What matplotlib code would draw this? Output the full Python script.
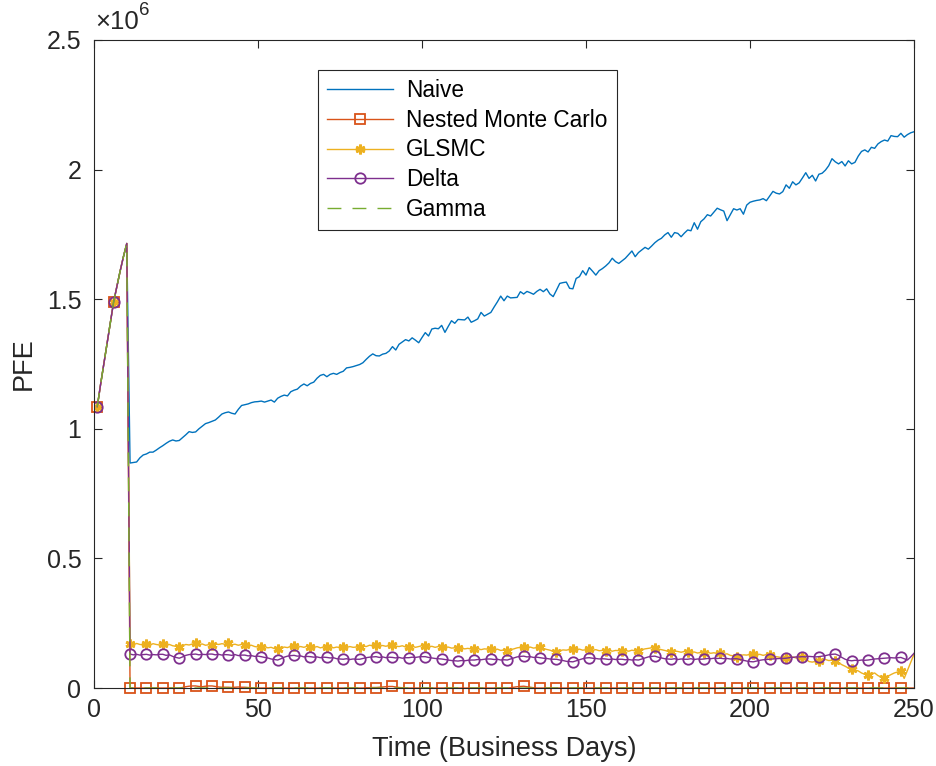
import numpy as np
import matplotlib.pyplot as plt
from matplotlib.ticker import FuncFormatter

plt.rcParams['font.family'] = ['Liberation Sans', 'DejaVu Sans']

# PFE in millions, days 1..250
days = np.arange(1, 251)

# days 1-10: all methods agree
spike = [1.085, 1.17, 1.25, 1.33, 1.41, 1.49, 1.55, 1.61, 1.665, 1.715]

naive_tail = [
    0.868, 0.870, 0.872, 0.888, 0.899, 0.903, 0.910, 0.910, 0.918, 0.927,
    0.935, 0.944, 0.952, 0.957, 0.953, 0.955, 0.966, 0.977, 0.989, 0.986,
    0.988, 1.000, 1.010, 1.020, 1.024, 1.029, 1.034, 1.045, 1.057, 1.062,
    1.065, 1.060, 1.057, 1.075, 1.090, 1.093, 1.096, 1.101, 1.104, 1.105,
    1.107, 1.103, 1.107, 1.111, 1.103, 1.118, 1.125, 1.130, 1.127, 1.143,
    1.149, 1.153, 1.165, 1.173, 1.166, 1.175, 1.180, 1.195, 1.206, 1.210,
    1.201, 1.210, 1.214, 1.210, 1.217, 1.222, 1.235, 1.237, 1.240, 1.244,
    1.248, 1.255, 1.268, 1.280, 1.289, 1.282, 1.281, 1.288, 1.291, 1.300,
    1.317, 1.304, 1.326, 1.335, 1.344, 1.339, 1.351, 1.342, 1.332, 1.352,
    1.371, 1.358, 1.385, 1.388, 1.386, 1.399, 1.372, 1.395, 1.417, 1.407,
    1.422, 1.421, 1.420, 1.431, 1.411, 1.417, 1.424, 1.449, 1.435, 1.442,
    1.449, 1.470, 1.490, 1.512, 1.494, 1.512, 1.505, 1.506, 1.507, 1.529,
    1.520, 1.530, 1.525, 1.519, 1.530, 1.538, 1.529, 1.540, 1.520, 1.510,
    1.535, 1.561, 1.564, 1.566, 1.542, 1.540, 1.580, 1.587, 1.610, 1.593,
    1.622, 1.608, 1.593, 1.610, 1.618, 1.628, 1.640, 1.658, 1.645, 1.638,
    1.648, 1.658, 1.672, 1.686, 1.664, 1.680, 1.690, 1.700, 1.693, 1.705,
    1.718, 1.728, 1.735, 1.748, 1.757, 1.739, 1.757, 1.754, 1.741, 1.755,
    1.767, 1.764, 1.795, 1.770, 1.799, 1.810, 1.826, 1.821, 1.836, 1.851,
    1.845, 1.840, 1.803, 1.826, 1.849, 1.844, 1.849, 1.828, 1.863, 1.874,
    1.878, 1.881, 1.883, 1.888, 1.880, 1.898, 1.916, 1.909, 1.906, 1.915,
    1.941, 1.928, 1.953, 1.941, 1.949, 1.968, 1.988, 1.966, 1.978, 1.956,
    1.982, 1.986, 1.998, 2.015, 2.042, 2.030, 2.022, 2.031, 2.014, 2.034,
    2.022, 2.028, 2.052, 2.070, 2.076, 2.068, 2.086, 2.082, 2.099, 2.108,
    2.114, 2.110, 2.131, 2.128, 2.127, 2.140, 2.125, 2.135, 2.142, 2.146,
]

nmc_tail = [
    0, 0, 0, 0, 0, 0, 0, 0, 0, 0, 0, 0, 0, 0, 0,
    0, .002, .005, .007, .008, .008, .006, .005, .007, .008,
    .008, .006, .004, .003, .003, .003, .002, .003, .004, .003,
    .003, .002, .001, 0, 0,
    0, 0, 0, 0, 0, 0, 0, 0, 0, 0, 0, 0, 0, 0, 0,
    0, 0, 0, 0, 0, 0, 0, 0, 0, 0, 0, 0, 0, 0, 0,
    0, 0, .001, .001, .002, .002, .003, .004, .005, .006,
    .006, .004, .002, .001, 0,
    0, 0, 0, 0, 0, 0, 0, 0, 0, 0, 0, 0, 0, 0, 0,
    0, 0, 0, 0, 0, 0, 0, 0, 0, 0, 0, 0, 0, 0, 0,
    0, .001, .003, .005, .006, .007, .005, .003, .001, 0,
    0, 0, 0, 0, 0, 0, 0, 0, 0, 0, 0, 0, 0, 0, 0,
    0, 0, 0, 0, 0, 0, 0, 0, 0, 0, 0, 0, 0, 0, 0,
    0, 0, 0, 0, 0, 0, 0, 0, 0, 0, 0, 0, 0, 0, 0,
    0, 0, 0, 0, 0, 0, 0, 0, 0, 0, 0, 0, 0, 0, 0,
    0, 0, 0, 0, 0, 0, 0, 0, 0, 0, 0, 0, 0, 0, 0,
    0, 0, 0, 0, 0, 0, 0, 0, 0, 0, 0, 0, 0, 0, 0,
    0, 0, 0, 0, 0, 0, 0, 0, 0, 0, 0, 0, 0, 0, 0,
    0, 0, 0, 0, 0, 0, 0, 0, 0, 0,
]

glsmc_tail = [
    .170, .166, .172, .168, .167, .170, .165, .171, .168, .166,
    .170, .166, .168, .163, .161, .157, .163, .168, .166, .170,
    .172, .168, .170, .165, .167, .166, .170, .168, .171, .169,
    .172, .167, .169, .165, .168, .166, .163, .165, .160, .158,
    .157, .160, .155, .157, .152, .150, .155, .158, .156, .161,
    .163, .158, .160, .157, .161, .159, .156, .160, .155, .158,
    .157, .160, .155, .158, .156, .159, .156, .160, .157, .158,
    .158, .162, .160, .165, .163, .166, .162, .164, .161, .165,
    .166, .162, .160, .163, .158, .159, .161, .157, .160, .163,
    .162, .158, .161, .157, .160, .159, .156, .158, .154, .155,
    .153, .155, .151, .153, .150, .149, .152, .148, .151, .150,
    .149, .146, .150, .145, .147, .144, .148, .151, .155, .157,
    .159, .155, .158, .154, .156, .157, .152, .149, .146, .142,
    .140, .144, .147, .146, .149, .149, .147, .150, .146, .148,
    .149, .146, .148, .144, .145, .143, .146, .142, .145, .144,
    .143, .145, .142, .146, .143, .144, .148, .151, .153, .155,
    .156, .151, .148, .145, .142, .140, .143, .141, .138, .141,
    .140, .137, .139, .135, .137, .136, .138, .134, .136, .133,
    .134, .130, .132, .126, .124, .121, .125, .128, .127, .130,
    .131, .128, .130, .126, .129, .127, .124, .121, .119, .117,
    .115, .117, .120, .116, .118, .118, .112, .102, .100, .103,
    .105, .109, .110, .106, .107, .105, .098, .090, .084, .077,
    .072, .070, .066, .058, .053, .050, .055, .058, .048, .042,
    .037, .045, .052, .058, .062, .067, .037, .068, .098, .130,
]

delta_tail = [
    .131, .128, .130, .127, .129, .130, .127, .129, .128, .130,
    .130, .126, .128, .122, .118, .115, .120, .126, .129, .130,
    .131, .128, .130, .129, .131, .131, .128, .130, .127, .129,
    .128, .126, .129, .125, .127, .127, .124, .125, .122, .123,
    .121, .118, .116, .112, .110, .108, .113, .119, .123, .125,
    .126, .123, .124, .120, .122, .121, .119, .120, .117, .119,
    .118, .116, .117, .113, .112, .111, .113, .110, .112, .111,
    .111, .114, .117, .119, .120, .121, .118, .120, .117, .119,
    .118, .116, .118, .115, .117, .117, .119, .118, .120, .121,
    .121, .118, .116, .114, .113, .112, .110, .108, .106, .105,
    .104, .106, .105, .107, .108, .108, .110, .109, .111, .112,
    .112, .110, .111, .108, .109, .108, .112, .116, .120, .122,
    .123, .120, .121, .118, .119, .117, .115, .114, .112, .111,
    .111, .108, .106, .103, .102, .101, .105, .109, .113, .116,
    .117, .115, .114, .112, .113, .112, .110, .112, .110, .111,
    .111, .109, .110, .108, .109, .108, .112, .116, .120, .122,
    .123, .119, .116, .113, .112, .111, .113, .110, .112, .111,
    .111, .113, .110, .112, .111, .112, .114, .113, .115, .114,
    .115, .113, .114, .112, .113, .113, .110, .107, .104, .102,
    .101, .104, .107, .109, .110, .111, .112, .113, .114, .114,
    .115, .117, .118, .120, .120, .121, .120, .122, .121, .120,
    .121, .123, .125, .128, .130, .131, .126, .118, .111, .107,
    .105, .107, .106, .108, .107, .108, .110, .112, .113, .114,
    .115, .116, .117, .116, .117, .118, .113, .108, .120, .134,
]

# Gamma sits on zero after day 10
gamma_tail = [0.0] * 240

naive = spike + naive_tail
nmc = spike + nmc_tail
glsmc = spike + glsmc_tail
delta = spike + delta_tail
gamma = spike + gamma_tail

fig = plt.figure(figsize=(9.36, 7.66), dpi=100)
ax = fig.add_axes([0.1004, 0.1018, 0.8761, 0.8460])

ax.plot(days, naive, color='#0072BD', lw=1.0, label='Naive')
ax.plot(days, nmc, color='#D95319', lw=1.0, marker='s', ms=7, mfc='none',
        mew=1.3, markevery=5, label='Nested Monte Carlo', clip_on=False)
ax.plot(days, glsmc, color='#EDB120', lw=1.0, marker=(6, 2, 0), ms=7,
        mew=2, markevery=5, label='GLSMC')
ax.plot(days, delta, color='#7E2F8E', lw=1.0, marker='o', ms=7.5, mfc='none',
        mew=1.3, markevery=5, label='Delta')
ax.plot(days, gamma, color='#77AC30', lw=1.0, ls=(0, (10, 8)), label='Gamma',
        clip_on=False)

ax.set_xlim(0, 250)
ax.set_ylim(0, 2.5)
ax.set_xticks([0, 50, 100, 150, 200, 250])
ax.set_yticks([0, 0.5, 1, 1.5, 2, 2.5])
ax.yaxis.set_major_formatter(FuncFormatter(lambda v, p: '%g' % v))

ax.tick_params(direction='in', top=True, right=True, length=6, width=0.8,
               labelsize=18, colors='#262626')
ax.tick_params(axis='x', pad=7)
ax.tick_params(axis='y', pad=9)
for s in ax.spines.values():
    s.set_color('#262626')
    s.set_linewidth(0.8)

ax.set_xlabel('Time (Business Days)', fontsize=19.5, color='#262626', labelpad=10)
ax.set_ylabel('PFE', fontsize=19.5, color='#262626', labelpad=7)

# exponent label in the MATLAB style
t1 = ax.text(0.002, 1.009, '\u00d710', transform=ax.transAxes, fontsize=18.5,
             color='#262626', ha='left', va='bottom')
ax.annotate('6', xy=(1, 0.62), xycoords=t1, fontsize=13.5, color='#262626',
            ha='left', va='bottom')

leg = ax.legend(loc='upper left', bbox_to_anchor=(0.273, 0.954), borderaxespad=0,
                fontsize=16.3, handlelength=2.9, handletextpad=0.6,
                labelspacing=0.3, borderpad=0.4, fancybox=False, framealpha=1,
                edgecolor='#262626')
leg.get_frame().set_linewidth(0.8)

fig.savefig('out.png', dpi=100)
